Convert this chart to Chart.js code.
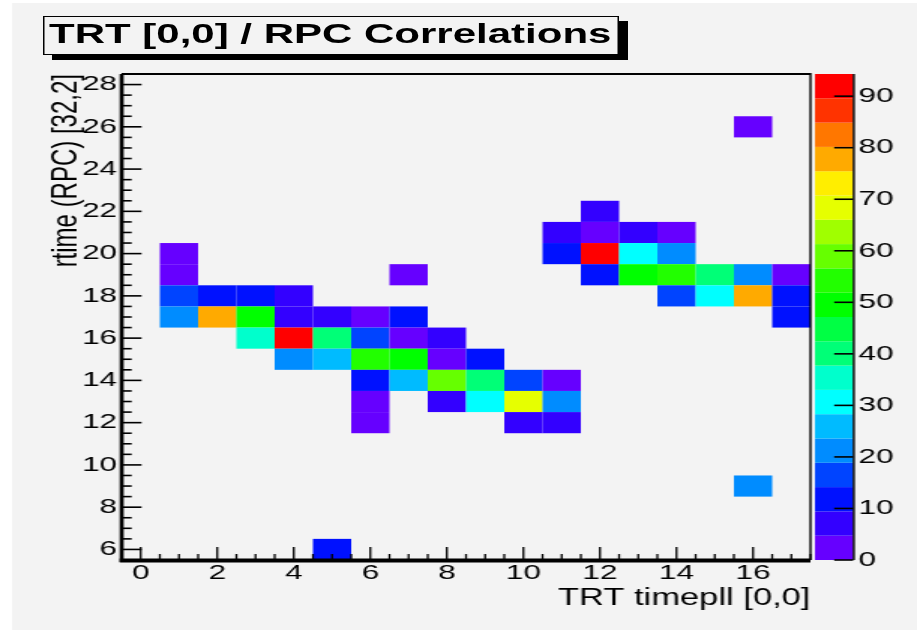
<!DOCTYPE html>
<html>
<head>
<meta charset="utf-8">
<title>TRT [0,0] / RPC Correlations</title>
<script src="https://cdn.jsdelivr.net/npm/chart.js@4.4.1/dist/chart.umd.min.js"></script>
<style>
  body { margin: 0; background: #fff; }
  #wrap { position: relative; width: 917px; height: 630px; overflow: hidden; }
  /* the canvas is drawn narrow and stretched 1.5x sideways, like the ROOT picture */
  #histo { position: absolute; left: 0; top: 0; width: 917px; height: 630px; }
  #title {
    position: absolute; left: 43px; top: 16px;
    width: 379px; height: 37px; padding-left: 3px;
    border: 1px solid #000; background: #f3f3f3;
    box-shadow: 6px 5px 0 #000;
    font: bold 28px "Liberation Sans", Arial, sans-serif; line-height: 33px;
    white-space: nowrap; color: #000;
    transform: scaleX(1.5); transform-origin: 0 0;
  }
</style>
</head>
<body>
<div id="wrap">
  <canvas id="histo" width="611" height="630" style="width:917px;height:630px"></canvas>
  <div id="title">TRT [0,0] / RPC Correlations</div>
</div>
<script>
//----------------------------------------------
// data: one entry per filled bin
//----------------------------------------------
const xTicks = [0, 2, 4, 6, 8, 10, 12, 14, 16];
const yTicks = [6, 8, 10, 12, 14, 16, 18, 20, 22, 24, 26, 28];
const zTicks = [0, 10, 20, 30, 40, 50, 60, 70, 80, 90];

const cellX = [16,
  12,
  11, 12, 13, 14,
  1, 11, 12, 13, 14,
  1, 7, 12, 13, 14, 15, 16, 17,
  1, 2, 3, 4, 14, 15, 16, 17,
  1, 2, 3, 4, 5, 6, 7, 17,
  3, 4, 5, 6, 7, 8,
  4, 5, 6, 7, 8, 9,
  6, 7, 8, 9, 10, 11,
  6, 8, 9, 10, 11,
  6, 10, 11,
  16,
  5];
const cellY = [26,
  22,
  21, 21, 21, 21,
  20, 20, 20, 20, 20,
  19, 19, 19, 19, 19, 19, 19, 19,
  18, 18, 18, 18, 18, 18, 18, 18,
  17, 17, 17, 17, 17, 17, 17, 17,
  16, 16, 16, 16, 16, 16,
  15, 15, 15, 15, 15, 15,
  14, 14, 14, 14, 14, 14,
  13, 13, 13, 13, 13,
  12, 12, 12,
  9,
  6];
const cellV = [2,
  7,
  7, 2, 7, 2,
  2, 12, 92, 31, 21,
  2, 2, 12, 50, 54, 40, 21, 2,
  16, 12, 12, 7, 16, 31, 78, 12,
  21, 78, 50, 7, 7, 2, 12, 12,
  35, 94, 40, 16, 2, 7,
  21, 26, 54, 50, 2, 12,
  12, 26, 59, 40, 16, 2,
  2, 7, 31, 68, 21,
  2, 7, 7,
  21,
  12];

const zMax = 94.3;

// ROOT rainbow palette, 20 contour levels (low -> high)
const palette = ['#6600ff', '#3300ff', '#0011ff', '#0044ff', '#008cff',
  '#00bbff', '#00ffff', '#00ffcc', '#00ff77', '#00ff44',
  '#00ff00', '#22ff00', '#66ff00', '#a0ff00', '#e6ff00',
  '#ffee00', '#ffaa00', '#ff7700', '#ff3300', '#ff0000'];

const points = cellX.map((x, i) => ({x: x, y: cellY[i], v: cellV[i]}));

function levelOf(v) {
  return Math.min(palette.length - 1, Math.floor(v / zMax * palette.length));
}

//----------------------------------------------
// drawing of bins, frame, ticks and palette
//----------------------------------------------
const rootPlugin = {
  id: 'rootFrame',
  beforeDraw(chart) {
    const c = chart.ctx;
    c.save();
    c.fillStyle = '#f3f3f3';
    c.fillRect(8, 3, chart.width, chart.height);
    c.restore();
  },
  beforeDatasetsDraw(chart) {
    const c = chart.ctx;
    const xs = chart.scales.x, ys = chart.scales.y;
    c.save();
    points.forEach(p => {
      const x0 = xs.getPixelForValue(p.x - 0.5);
      const x1 = xs.getPixelForValue(p.x + 0.5);
      const y0 = ys.getPixelForValue(p.y + 0.5);
      const y1 = ys.getPixelForValue(p.y - 0.5);
      c.fillStyle = palette[levelOf(p.v)];
      c.fillRect(x0, y0, x1 - x0, y1 - y0);
    });
    c.restore();
  },
  afterDatasetsDraw(chart) {
    const c = chart.ctx;
    const a = chart.chartArea;
    const xs = chart.scales.x, ys = chart.scales.y, zs = chart.scales.z;
    c.save();
    c.fillStyle = '#000';
    c.strokeStyle = '#000';

    // frame
    c.fillRect(a.left - 1.3, a.top, 2.7, a.bottom - a.top + 2);
    c.fillRect(a.left - 1.3, a.bottom - 1.5, a.right - a.left + 1.3, 4);
    c.fillRect(a.left, a.top - 1, a.right - a.left, 2);
    c.fillRect(a.right - 0.7, a.top - 1, 1.4, a.bottom - a.top + 1);

    // x ticks, inside the frame
    c.lineWidth = 1.3;
    for (let v = Math.ceil(xs.min * 2) / 2; v <= xs.max; v += 0.5) {
      const px = xs.getPixelForValue(v);
      const len = xTicks.includes(v) ? 13 : 6;
      c.beginPath();
      c.moveTo(px, a.bottom);
      c.lineTo(px, a.bottom - len);
      c.stroke();
    }
    // y ticks
    c.lineWidth = 1.6;
    for (let v = Math.ceil(ys.min * 2) / 2; v <= ys.max; v += 0.5) {
      const py = ys.getPixelForValue(v);
      const len = yTicks.includes(v) ? 13.3 : 6.7;
      c.beginPath();
      c.moveTo(a.left, py);
      c.lineTo(a.left + len, py);
      c.stroke();
    }

    // palette
    const cbLeft = zs.left + 3, cbRight = zs.left + 28.5;
    const n = palette.length;
    for (let k = 0; k < n; k++) {
      const y0 = zs.getPixelForValue((k + 1) * zMax / n);
      const y1 = zs.getPixelForValue(k * zMax / n);
      c.fillStyle = palette[k];
      c.fillRect(cbLeft, y0, cbRight - cbLeft, y1 - y0);
    }
    c.fillStyle = '#000';
    c.fillRect(cbRight - 0.3, a.top, 1.4, a.bottom - a.top);
    c.lineWidth = 1.6;
    zTicks.forEach(v => {
      const py = zs.getPixelForValue(v);
      c.beginPath();
      c.moveTo(cbRight - 12.7, py);
      c.lineTo(cbRight, py);
      c.stroke();
    });
    c.restore();
  }
};

Chart.defaults.color = '#000';
Chart.defaults.font.family = '"Liberation Sans", Arial, sans-serif';

const histCtx = document.getElementById('histo').getContext('2d');

const histo = new Chart(histCtx, {
  type: 'scatter',
  data: {
    datasets: [{
      label: 'TRT [0,0] / RPC Correlations',
      data: points,
      pointRadius: 0,
      pointHoverRadius: 0
    }]
  },
  options: {
    responsive: false,
    animation: false,
    events: [],
    layout: {padding: {top: 74, left: 0, right: 0, bottom: 0}},
    plugins: {
      legend: {display: false},
      tooltip: {enabled: false}
    },
    scales: {
      x: {
        type: 'linear',
        min: -0.5,
        max: 17.5,
        afterBuildTicks: s => { s.ticks = xTicks.map(v => ({value: v})); },
        afterFit: s => { s.height = 70; },
        grid: {display: false, drawTicks: false},
        border: {display: false},
        ticks: {font: {size: 21}, padding: 1, maxRotation: 0, autoSkip: false},
        title: {
          display: true,
          text: 'TRT timepll [0,0]',
          align: 'end',
          font: {size: 23},
          padding: {top: 0, bottom: 18}
        }
      },
      y: {
        type: 'linear',
        min: 5.5,
        max: 28.5,
        afterBuildTicks: s => { s.ticks = yTicks.map(v => ({value: v})); },
        afterFit: s => { s.width = 81; },
        grid: {display: false, drawTicks: false},
        border: {display: false},
        ticks: {font: {size: 21}, padding: 3, autoSkip: false},
        title: {
          display: true,
          text: 'rtime (RPC) [32,2]',
          align: 'end',
          font: {size: 24},
          padding: {top: 30, bottom: 0}
        }
      },
      z: {
        type: 'linear',
        position: 'right',
        display: true,
        min: 0,
        max: zMax,
        afterBuildTicks: s => { s.ticks = zTicks.map(v => ({value: v})); },
        afterFit: s => { s.width = 71; },
        grid: {display: false, drawTicks: false},
        border: {display: false},
        ticks: {font: {size: 21}, padding: 32, autoSkip: false}
      }
    }
  },
  plugins: [rootPlugin]
});
</script>
</body>
</html>
